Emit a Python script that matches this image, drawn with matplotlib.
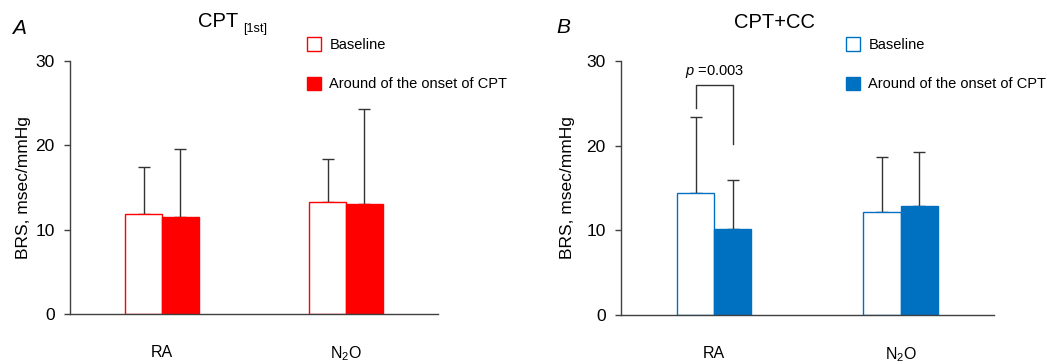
import matplotlib
matplotlib.use("Agg")
import matplotlib.pyplot as plt
from matplotlib.patches import Patch

plt.rcParams['font.family'] = ['Liberation Sans', 'DejaVu Sans']
plt.rcParams['mathtext.fontset'] = 'custom'
plt.rcParams['mathtext.rm'] = 'Liberation Sans'
plt.rcParams['mathtext.it'] = 'Liberation Sans:italic'

groups = ["RA", "N$_2$O"]
series = ["Baseline", "Around of the onset of CPT"]

# panel A: CPT [1st]
a_base = [11.8, 13.3]
a_base_sd = [5.6, 5.1]
a_onset = [11.5, 13.1]
a_onset_sd = [8.1, 11.2]

# panel B: CPT+CC
b_base = [14.4, 12.2]
b_base_sd = [9.0, 6.5]
b_onset = [10.1, 12.9]
b_onset_sd = [5.8, 6.4]

p_text = "0.003"

red = "#FF0000"
blue = "#0070C0"
axcol = "#404040"


def panel(ax, base, base_sd, onset, onset_sd, color):
    w = 0.2
    x = list(range(len(groups)))
    xb = [i - w / 2 for i in x]
    xo = [i + w / 2 for i in x]
    ax.bar(xb, base, w, color="white", edgecolor=color, linewidth=1.0, zorder=2)
    ax.bar(xo, onset, w, color=color, edgecolor=color, linewidth=1.0, zorder=2)
    ax.errorbar(xb, base, yerr=[[0] * len(base), base_sd], fmt="none",
                ecolor="#333333", elinewidth=1.0, capsize=4.5, capthick=1.0, zorder=1)
    ax.errorbar(xo, onset, yerr=[[0] * len(onset), onset_sd], fmt="none",
                ecolor="#333333", elinewidth=1.0, capsize=4.5, capthick=1.0, zorder=1)
    ax.set_xlim(-0.5, 1.5)
    ax.set_ylim(0, 30)
    ax.set_yticks([0, 10, 20, 30])
    ax.set_xticks(x)
    ax.set_xticklabels(groups, fontsize=11.5)
    ax.tick_params(axis="x", length=0, pad=22)
    ax.tick_params(axis="y", length=4, width=1, color=axcol, labelsize=12.5, pad=7)
    for s in ["top", "right"]:
        ax.spines[s].set_visible(False)
    for s in ["left", "bottom"]:
        ax.spines[s].set_color(axcol)
        ax.spines[s].set_linewidth(1.0)
    ax.set_ylabel("BRS, msec/mmHg", fontsize=12.5)
    return xb, xo


fig = plt.figure(figsize=(10.56, 3.64), dpi=100)
axA = fig.add_axes([0.0663, 0.1374, 0.3485, 0.695])
axB = fig.add_axes([0.588, 0.1346, 0.3532, 0.6978])

panel(axA, a_base, a_base_sd, a_onset, a_onset_sd, red)
xb, xo = panel(axB, b_base, b_base_sd, b_onset, b_onset_sd, blue)
axA.yaxis.set_label_coords(-0.105, 0.5)
axB.yaxis.set_label_coords(-0.122, 0.5)

# significance bracket in B
y_l = b_base[0] + b_base_sd[0] + 1.1
y_r = b_onset[0] + b_onset_sd[0] + 4.3
y_top = 27.2
axB.plot([xb[0], xb[0], xo[0], xo[0]], [y_l, y_top, y_top, y_r],
         color="#333333", lw=1.0, clip_on=False)
axB.text((xb[0] + xo[0]) / 2, y_top + 0.6, "$p$ =" + p_text,
         ha="center", va="bottom", fontsize=10.5)

# titles and panel letters
fig.text(0.207, 0.94, "CPT", fontsize=14.5, ha="center", va="center")
fig.text(0.2305, 0.92, "[1st]", fontsize=9, ha="left", va="center")
fig.text(0.733, 0.937, "CPT+CC", fontsize=14.5, ha="center", va="center")
fig.text(0.011, 0.922, "A", fontsize=15, style="italic", ha="left", va="center")
fig.text(0.527, 0.925, "B", fontsize=15, style="italic", ha="left", va="center")

for color, x0 in [(red, 0.2905), (blue, 0.801)]:
    handles = [Patch(facecolor="white", edgecolor=color, linewidth=1.0),
               Patch(facecolor=color, edgecolor=color, linewidth=1.0)]
    fig.legend(handles, series, loc="upper left", bbox_to_anchor=(x0, 0.897),
               frameon=False, fontsize=10.5, handlelength=1.0, handleheight=1.0,
               handletextpad=0.55, labelspacing=1.7, borderpad=0, borderaxespad=0)

fig.savefig("out.png", dpi=100)
